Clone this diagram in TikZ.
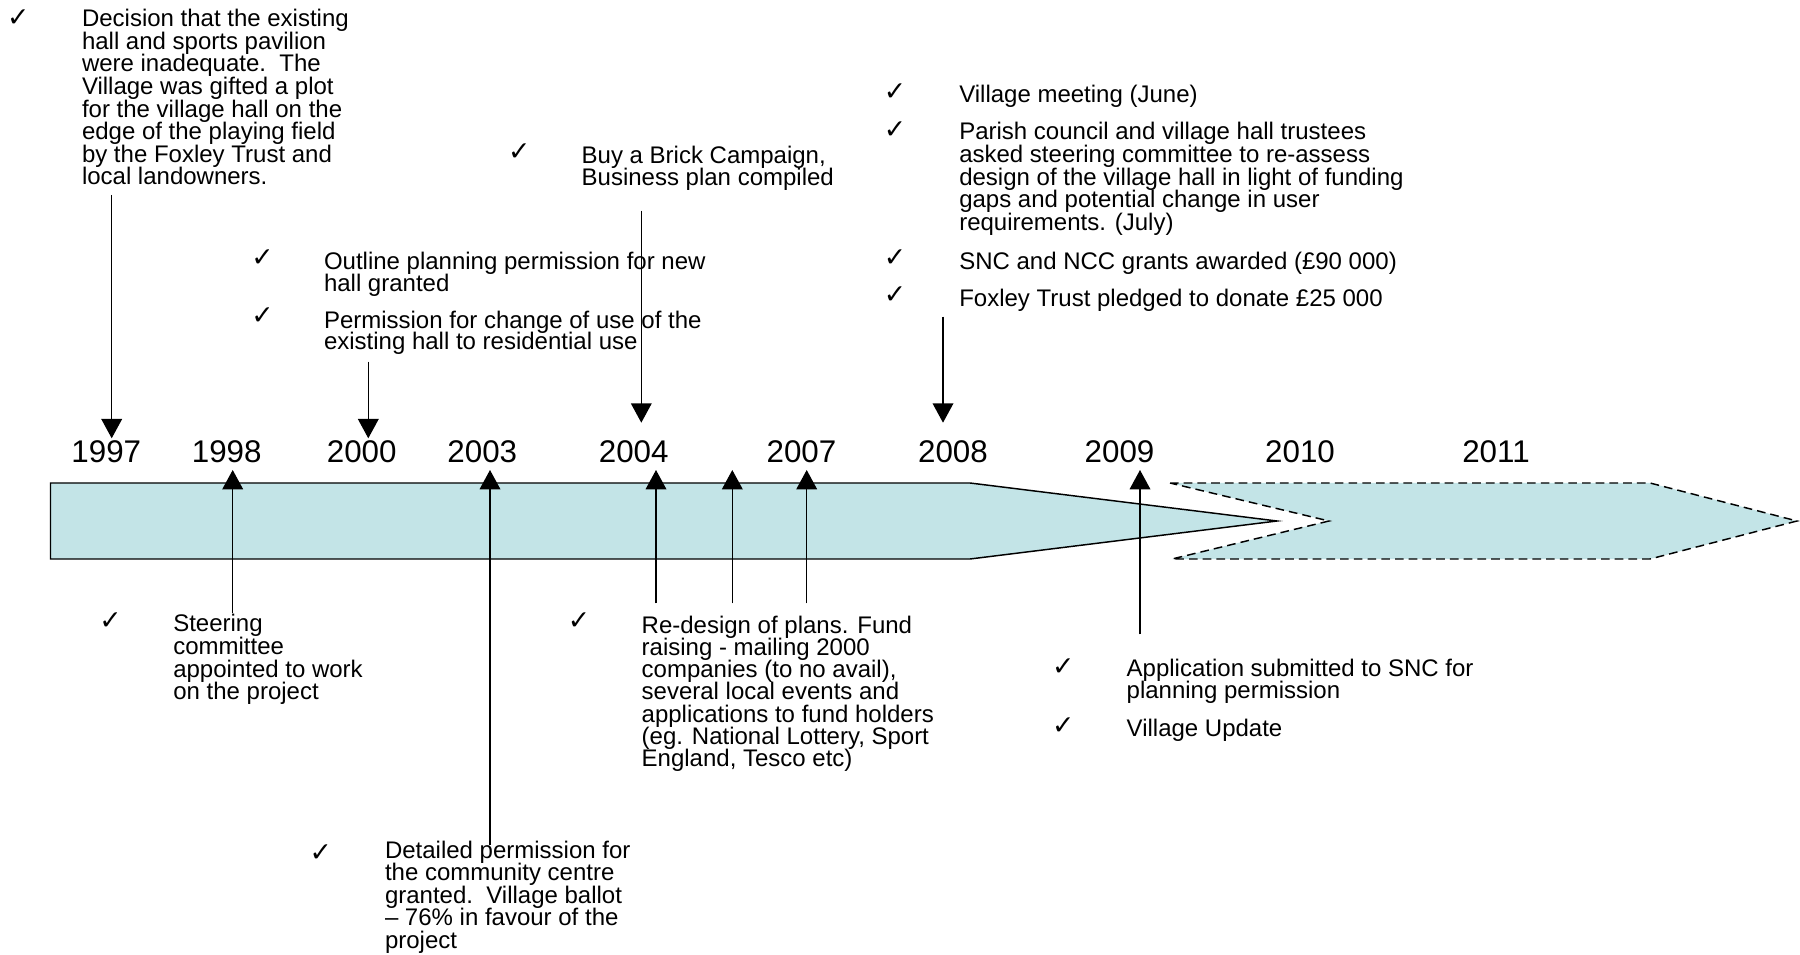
\documentclass[tikz,border=0pt]{standalone}
\usepackage{fontspec}
\setmainfont{Liberation Sans}
\newfontfamily\symfont{DejaVu Sans}
\usetikzlibrary{arrows.meta}
\definecolor{barfill}{RGB}{195,228,231}
\newcommand{\ts}{\vrule height 13.5pt depth 0pt width 0pt\relax}
\tikzset{
  body/.style={anchor=north west, inner sep=0pt, outer sep=0pt, align=left,
    font={\fontsize{18}{#1}\selectfont\lineskiplimit=-100pt\relax}},
  chk/.style={anchor=center, inner sep=0pt, font={\symfont\fontsize{20}{20}\selectfont}},
  yr/.style={anchor=base, inner sep=0pt, font={\fontsize{23.5}{23.5}\selectfont}},
  arr/.style={line width=1pt, -{Triangle[length=14.5pt,width=15.5pt]}},
  barline/.style={line width=1.1pt, fill=barfill, line join=miter},
  dashline/.style={line width=1.1pt, fill=barfill, dash pattern=on 6.5pt off 3.8pt}
}
\begin{document}
\begin{tikzpicture}[x=0.75pt, y=-0.75pt]
\useasboundingbox (0,0) rectangle (1800,955);
% timeline bars
\draw[barline] (50.5,483) -- (970,483) -- (1277,521) -- (970,559) -- (50.5,559) -- cycle;
\draw[dashline] (1170,483) -- (1650,483) -- (1797,521) -- (1650,559) -- (1172,559) -- (1329,521) -- cycle;
% years
\node[yr] (y1997) at (106.3,462.7) {1997};
\node[yr] (y1998) at (226.7,462.7) {1998};
\node[yr] (y2000) at (361.7,462.7) {2000};
\node[yr] (y2003) at (482.3,462.7) {2003};
\node[yr] (y2004) at (633.7,462.7) {2004};
\node[yr] (y2007) at (801.5,462.7) {2007};
\node[yr] (y2008) at (953,462.7) {2008};
\node[yr] (y2009) at (1119.5,462.7) {2009};
\node[yr] (y2010) at (1300,462.7) {2010};
\node[yr] (y2011) at (1496,462.7) {2011};
% text blocks
\node[chk] (cA) at (18.3,18.3) {✓};
\node[body=16.95pt] (tA) at (82,8.7) {\ts Decision that the existing\\hall and sports pavilion\\were inadequate.\ \ The\\Village was gifted a plot\\for the village hall on the\\edge of the playing field\\by the Foxley Trust and\\local landowners.};
\node[chk] (cB1) at (262.5,258) {✓};
\node[body=16.1pt] (tB1) at (324,252) {\ts Outline planning permission for new\\hall granted};
\node[chk] (cB2) at (262.5,316.5) {✓};
\node[body=16.1pt] (tB2) at (324,310.3) {\ts Permission for change of use of the\\existing hall to residential use};
\node[chk] (cC) at (519.2,152.3) {✓};
\node[body=16.3pt] (tC) at (581.7,145.3) {\ts Buy a Brick Campaign,\\Business plan compiled};
\node[chk] (cD1) at (895,92) {✓};
\node[body=16.9pt] (tD1) at (959.3,84.3) {\ts Village meeting (June)};
\node[chk] (cD2) at (895,130) {✓};
\node[body=16.9pt] (tD2) at (959.3,122) {\ts Parish council and village hall trustees\\asked steering committee to re-assess\\design of the village hall in light of funding\\gaps and potential change in user\\requirements. (July)};
\node[chk] (cD3) at (895,258.3) {✓};
\node[body=16.9pt] (tD3) at (959.3,251.3) {\ts SNC and NCC grants awarded (£90 000)};
\node[chk] (cD4) at (895,295) {✓};
\node[body=16.9pt] (tD4) at (959.3,288.7) {\ts Foxley Trust pledged to donate £25 000};
\node[chk] (cE) at (110.5,621.3) {✓};
\node[body=17pt] (tE) at (173.3,613.7) {\ts Steering\\committee\\appointed to work\\on the project};
\node[chk] (cF) at (320.8,853) {✓};
\node[body=16.9pt] (tF) at (385,840.3) {\ts Detailed permission for\\the community centre\\granted.\ \ Village ballot\\– 76\% in favour of the\\project};
\node[chk] (cG) at (579,620.7) {✓};
\node[body=16.65pt] (tG) at (641.7,615.3) {\ts Re-design of plans. Fund\\raising - mailing 2000\\companies (to no avail),\\several local events and\\applications to fund holders\\(eg. National Lottery, Sport\\England, Tesco etc)};
\node[chk] (cH1) at (1063.3,666.7) {✓};
\node[body=16.2pt] (tH1) at (1126.7,658.7) {\ts Application submitted to SNC for\\planning permission};
\node[chk] (cH2) at (1063.3,725.7) {✓};
\node[body=16.2pt] (tH2) at (1126.7,718.7) {\ts Village Update};
% arrow end points
\coordinate (s97) at (111.7,195);   \coordinate (e97) at (111.7,438.3);
\coordinate (s00) at (368.3,361.7); \coordinate (e00) at (368.3,438.3);
\coordinate (s04t) at (641.3,210.7); \coordinate (e04t) at (641.3,422.7);
\coordinate (s08) at (943,316.7);   \coordinate (e08) at (943,422.7);
\coordinate (s98) at (232.7,613);   \coordinate (e98) at (232.7,470);
\coordinate (s03) at (490,845);     \coordinate (e03) at (490,470);
\coordinate (s04b) at (656,603.3);  \coordinate (e04b) at (656,470);
\coordinate (s06) at (732.3,603.3); \coordinate (e06) at (732.3,470);
\coordinate (s07) at (806.7,603.3); \coordinate (e07) at (806.7,470);
\coordinate (s09) at (1140,634.3);  \coordinate (e09) at (1140,470);
% arrows
\draw[arr] (s97) -- (e97);
\draw[arr] (s00) -- (e00);
\draw[arr] (s04t) -- (e04t);
\draw[arr] (s08) -- (e08);
\draw[arr] (s98) -- (e98);
\draw[arr] (s03) -- (e03);
\draw[arr] (s04b) -- (e04b);
\draw[arr] (s06) -- (e06);
\draw[arr] (s07) -- (e07);
\draw[arr] (s09) -- (e09);
\end{tikzpicture}
\end{document}
